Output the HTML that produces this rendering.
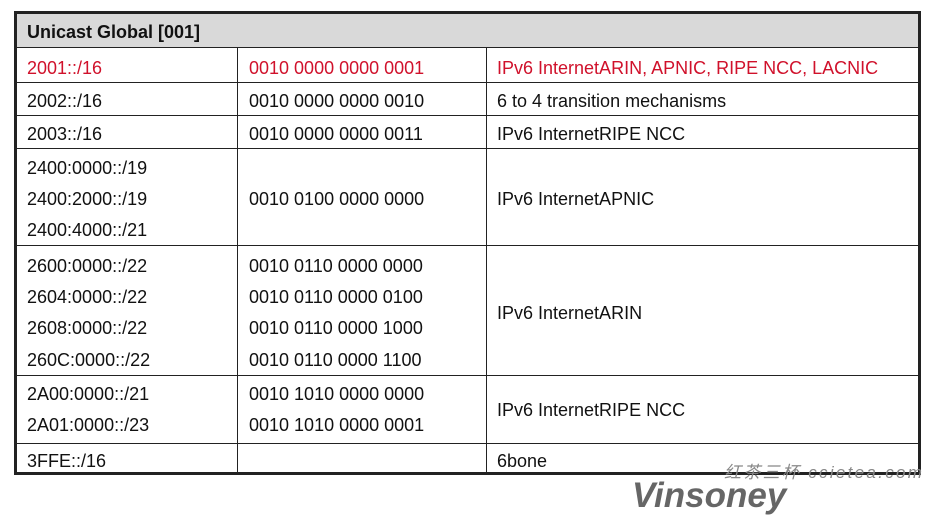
<!DOCTYPE html>
<html><head><meta charset="utf-8"><style>
body{margin:0;width:937px;height:524px;background:#fff;position:relative;overflow:hidden;font-family:"Liberation Sans",Arial,sans-serif;font-size:18px;color:#111}
.b{position:absolute;background:#222}
.t{position:absolute;line-height:20px;white-space:nowrap}
.n{font-size:18px}
.r{color:#d0112b}
</style></head><body>
<div style="position:absolute;left:17px;top:14px;width:901px;height:33px;background:#d9d9d9"></div>
<div class="b" style="left:14px;top:11px;width:907px;height:3px"></div>
<div class="b" style="left:14px;top:472px;width:907px;height:3px"></div>
<div class="b" style="left:14px;top:11px;width:3px;height:464px"></div>
<div class="b" style="left:918px;top:11px;width:3px;height:464px"></div>
<div class="b" style="left:17px;top:47px;width:901px;height:1px"></div>
<div class="b" style="left:17px;top:82px;width:901px;height:1px"></div>
<div class="b" style="left:17px;top:115px;width:901px;height:1px"></div>
<div class="b" style="left:17px;top:148px;width:901px;height:1px"></div>
<div class="b" style="left:17px;top:245px;width:901px;height:1px"></div>
<div class="b" style="left:17px;top:375px;width:901px;height:1px"></div>
<div class="b" style="left:17px;top:443px;width:901px;height:1px"></div>
<div class="b" style="left:237px;top:47px;width:1px;height:426px"></div>
<div class="b" style="left:486px;top:47px;width:1px;height:426px"></div>
<div class="t" style="left:27px;top:22px;font-weight:bold">Unicast Global [001]</div>
<div class="t r" style="left:27px;top:58px">2001::/16</div>
<div class="t r n" style="left:249px;top:58px">0010 0000 0000 0001</div>
<div class="t r" style="left:497px;top:58px">IPv6 InternetARIN, APNIC, RIPE NCC, LACNIC</div>
<div class="t" style="left:27px;top:91px">2002::/16</div>
<div class="t n" style="left:249px;top:91px">0010 0000 0000 0010</div>
<div class="t" style="left:497px;top:91px">6 to 4 transition mechanisms</div>
<div class="t" style="left:27px;top:124px">2003::/16</div>
<div class="t n" style="left:249px;top:124px">0010 0000 0000 0011</div>
<div class="t" style="left:497px;top:124px">IPv6 InternetRIPE NCC</div>
<div class="t" style="left:27px;top:158px">2400:0000::/19</div>
<div class="t" style="left:27px;top:189px">2400:2000::/19</div>
<div class="t" style="left:27px;top:220px">2400:4000::/21</div>
<div class="t n" style="left:249px;top:189px">0010 0100 0000 0000</div>
<div class="t" style="left:497px;top:189px">IPv6 InternetAPNIC</div>
<div class="t" style="left:27px;top:256px">2600:0000::/22</div>
<div class="t" style="left:27px;top:287px">2604:0000::/22</div>
<div class="t" style="left:27px;top:318px">2608:0000::/22</div>
<div class="t" style="left:27px;top:350px">260C:0000::/22</div>
<div class="t n" style="left:249px;top:256px">0010 0110 0000 0000</div>
<div class="t n" style="left:249px;top:287px">0010 0110 0000 0100</div>
<div class="t n" style="left:249px;top:318px">0010 0110 0000 1000</div>
<div class="t n" style="left:249px;top:350px">0010 0110 0000 1100</div>
<div class="t" style="left:497px;top:303px">IPv6 InternetARIN</div>
<div class="t" style="left:27px;top:384px">2A00:0000::/21</div>
<div class="t" style="left:27px;top:415px">2A01:0000::/23</div>
<div class="t n" style="left:249px;top:384px">0010 1010 0000 0000</div>
<div class="t n" style="left:249px;top:415px">0010 1010 0000 0001</div>
<div class="t" style="left:497px;top:400px">IPv6 InternetRIPE NCC</div>
<div class="t" style="left:27px;top:451px">3FFE::/16</div>
<div class="t" style="left:497px;top:451px">6bone</div>
<div class="t" style="left:724px;top:463px;font-size:17px;color:#888;font-style:italic;font-family:'Liberation Sans','Noto Sans CJK SC',sans-serif;letter-spacing:2.3px">红茶三杯 ccietea.com</div>
<div class="t" style="left:632px;top:477px;font-size:35px;line-height:38px;font-weight:bold;font-style:italic;color:#666">Vinsoney</div>
</body></html>
